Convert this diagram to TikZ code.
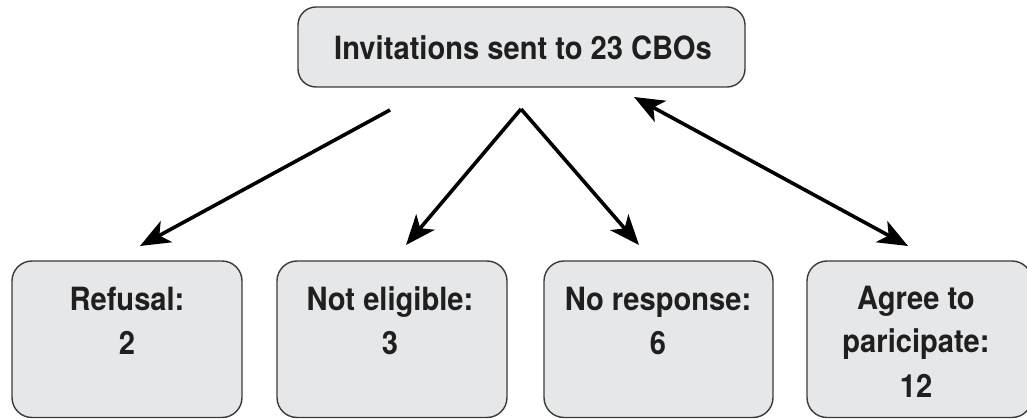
\documentclass[tikz,border=0pt]{standalone}
\usepackage{fontspec}
\setmainfont[FakeStretch=0.91]{TeX Gyre Heros}
\usetikzlibrary{arrows.meta}
\definecolor{boxfill}{HTML}{E6E7E9}
\definecolor{boxline}{HTML}{3A3A3A}
\begin{document}
\begin{tikzpicture}[x=1pt,y=-1pt,
  card/.style={draw=boxline,fill=boxfill,line width=1.4pt,rounded corners=20pt},
  label/.style={anchor=base,font=\bfseries\fontsize{32}{38}\selectfont,text=black!88},
  flow/.style={line width=3.6pt,-{Stealth[length=30pt,width=24pt,inset=8pt]}},
  both/.style={line width=3.6pt,{Stealth[length=30pt,width=24pt,inset=8pt]}-{Stealth[length=30pt,width=24pt,inset=8pt]}}]
\useasboundingbox (0,0) rectangle (1027,419);
% boxes
\draw[card,rounded corners=18pt] (298,7) rectangle (745,87);
\node[label] (top) at (523,60) {Invitations sent to 23 CBOs};
\draw[card] (12,261) rectangle (242,417.5);
\draw[card] (277,261) rectangle (507,417.5);
\draw[card] (544,261) rectangle (773,417.5);
\draw[card] (807,261) rectangle (1032,417.5);
\node[label] (r1) at (127,310) {Refusal:};
\node[label] (r2) at (127,354) {2};
\node[label] (n1) at (390,310) {Not eligible:};
\node[label] (n2) at (390,354) {3};
\node[label] (s1) at (658,310) {No response:};
\node[label] (s2) at (658,354) {6};
\node[label] (a1) at (916,309) {Agree to};
\node[label] (a2) at (916,352) {paricipate:};
\node[label] (a3) at (916,397) {12};
% connector ends
\coordinate (o1) at (390,110);
\coordinate (apex) at (521,109);
\coordinate (o4) at (634,97);
\coordinate (t1) at (140,246);
\coordinate (t2) at (406,245);
\coordinate (t3) at (639,245);
\coordinate (t4) at (908,246);
\draw[flow] (o1) -- (t1);
\draw[flow] (apex) -- (t2);
\draw[flow] (apex) -- (t3);
\draw[both] (o4) -- (t4);
\end{tikzpicture}
\end{document}
